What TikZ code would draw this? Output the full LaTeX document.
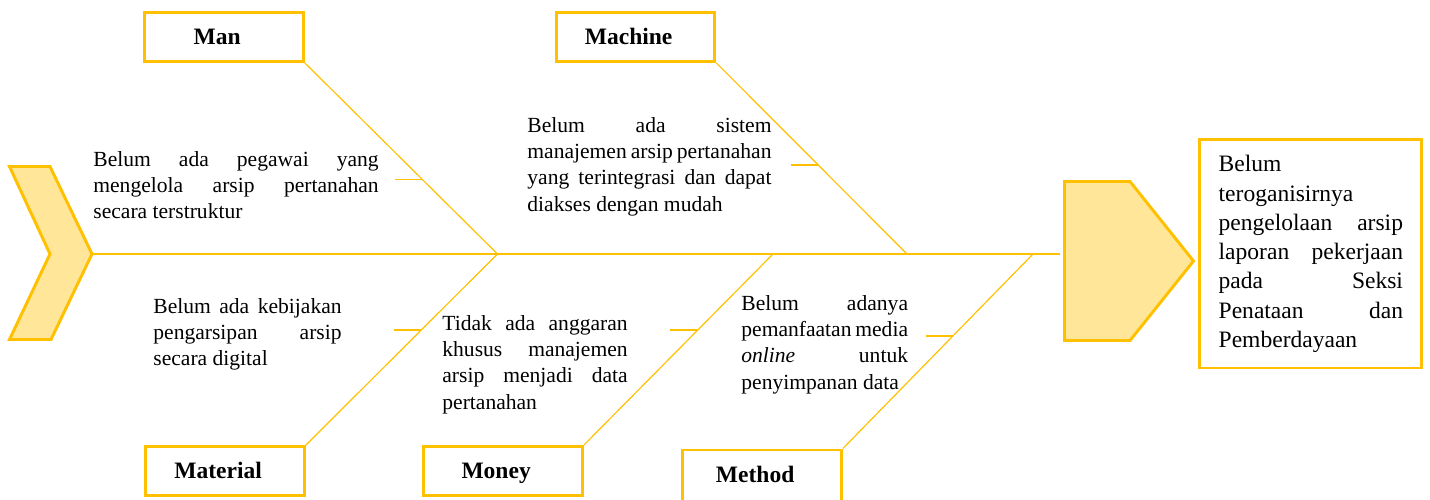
\documentclass[tikz,border=0pt]{standalone}
\usepackage{fontspec}
\setmainfont{Liberation Serif}
\usetikzlibrary{positioning, calc}

\definecolor{fishgold}{HTML}{FFC000}
\definecolor{fishfill}{HTML}{FFE699}

\hyphenpenalty=10000
\exhyphenpenalty=10000
\hbadness=10000

\tikzset{
    catbox/.style={draw=fishgold, line width=1.5pt, minimum width=81pt, minimum height=25pt,
        inner sep=0pt, text height=8pt, text depth=0pt, font=\fontsize{12}{14}\selectfont\bfseries,
        execute at begin node={\hspace*{-7pt}}},
    cause/.style={anchor=north west, inner sep=0pt, align=justify,
        font=\fontsize{11}{13.4}\selectfont},
    bone/.style={draw=fishgold, line width=0.6pt},
    spine/.style={draw=fishgold, line width=0.8pt},
    fishend/.style={draw=fishgold, fill=fishfill, line width=1.5pt, line join=miter}
}

\begin{document}
\begin{tikzpicture}[x=0.51pt, y=-0.51pt]
    \useasboundingbox (0,0) rectangle (1430,499);

    % tail and head of the fish
    \draw[fishend] (9.5,166.5) -- (50,166.5) -- (92,254) -- (51,339.5) -- (9.5,339.5) -- (50,254) -- cycle;
    \coordinate (tail) at (92,254);
    \draw[fishend] (1064.5,181.5) -- (1130,181.5) -- (1193.5,261) -- (1130,340.5) -- (1064.5,340.5) -- cycle;
    \coordinate (head) at (1193.5,261);
    \coordinate (spineend) at (1060,254);

    % categories
    \node[catbox] (man) at (224,37) {Man};
    \node[catbox] (machine) at (635.5,37) {Machine};
    \node[catbox] (material) at (225,471) {Material};
    \node[catbox] (money) at (503,471) {Money};
    \node[catbox, anchor=north, minimum height=31pt, text depth=6pt] (method) at (762,448.5) {Method};

    % where the bones meet the spine
    \coordinate (jman) at (497.5,254);
    \coordinate (jmachine) at (907,254);
    \coordinate (jmoney) at (773,254);
    \coordinate (jmethod) at (1033,254);

    \draw[spine] (tail) -- (spineend);
    \draw[bone] (man.south east) -- (jman);
    \draw[bone] (material.north east) -- (jman);
    \draw[bone] (machine.south east) -- (jmachine);
    \draw[bone] (money.north east) -- (jmoney);
    \draw[bone] (method.north east) -- (jmethod);

    % small side bones
    \coordinate (tman) at ($(man.south east)!0.61!(jman)$);
    \coordinate (tmachine) at ($(machine.south east)!0.535!(jmachine)$);
    \coordinate (tmaterial) at ($(material.north east)!0.6!(jman)$);
    \coordinate (tmoney) at ($(money.north east)!0.6!(jmoney)$);
    \coordinate (tmethod) at ($(method.north east)!0.58!(jmethod)$);
    \foreach \t in {tman, tmachine, tmaterial, tmoney, tmethod}
        \draw[bone, line width=1pt] (\t) -- ++(-27,0);

    % causes
    \node[cause, text width=145.5pt] (cman) at (93,151)
        {Belum ada pegawai yang\linebreak mengelola arsip pertanahan\linebreak secara terstruktur};
    \node[cause, text width=124.5pt] (cmachine) at (527,117)
        {Belum ada sistem\linebreak manajemen arsip pertanahan\linebreak yang terintegrasi dan dapat\linebreak diakses dengan mudah};
    \node[cause, text width=96pt] (cmaterial) at (153,298)
        {Belum ada kebijakan\linebreak pengarsipan arsip\linebreak secara digital};
    \node[cause, text width=94.5pt] (cmoney) at (442,315)
        {Tidak ada anggaran\linebreak khusus manajemen\linebreak arsip menjadi data\linebreak pertanahan};
    \node[cause, text width=85pt] (cmethod) at (741,295)
        {Belum adanya\linebreak pemanfaatan media\linebreak \textit{online} untuk\linebreak penyimpanan data};

    % effect
    \node[draw=fishgold, line width=1.5pt, text width=94pt, inner xsep=9.6pt, minimum height=116.3pt,
        align=justify, font=\fontsize{12}{14.9}\selectfont, anchor=west,
        right=2.5pt of head, yshift=3.6pt] (result)
        {Belum\\ teroganisirnya\\ pengelolaan arsip\linebreak laporan pekerjaan\linebreak pada Seksi\linebreak Penataan dan\linebreak Pemberdayaan};
\end{tikzpicture}
\end{document}
